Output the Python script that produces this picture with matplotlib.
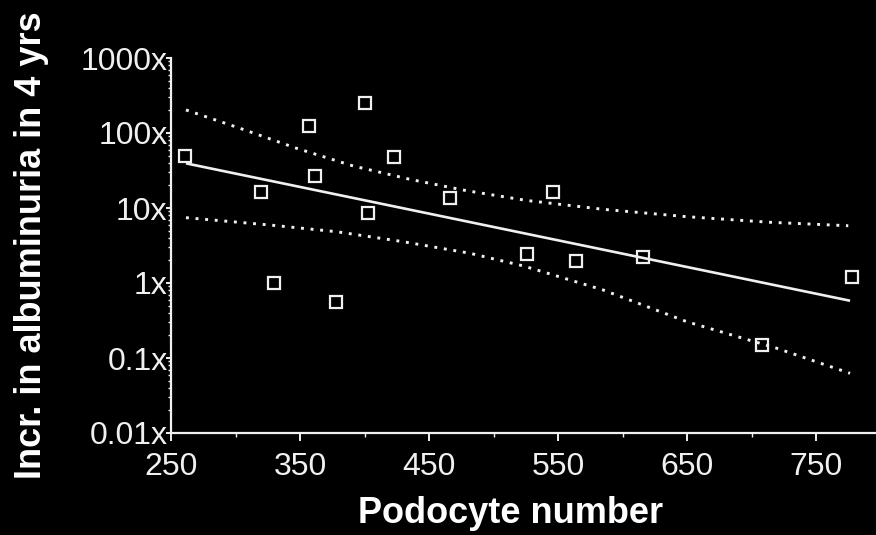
import matplotlib
matplotlib.use('Agg')
import matplotlib.pyplot as plt
from matplotlib.ticker import LogLocator, FixedLocator, NullFormatter
import numpy as np

# values
podocytes   = [261, 320, 330, 357, 362, 378, 400, 403, 423, 466, 526, 546, 564, 616, 708, 778]
albuminuria = [50, 16.5, 1.0, 124, 26.7, 0.56, 253, 8.5, 48, 13.5, 2.44, 16.5, 1.98, 2.22, 0.148, 1.21]

fit_x = [261.6, 776.4]
fit_y = [39.4, 0.58]

upper_x = [261.6, 303.5, 347.4, 391.3, 435.3, 479.2, 525.7, 585.1, 649.8, 714.3, 775.0]
upper_y = [203, 115.5, 62.5, 36.3, 24.1, 17.0, 12.6, 9.6, 7.66, 6.45, 5.8]
lower_x = [261.6, 326.7, 378.4, 430.1, 481.8, 523.1, 585.1, 649.8, 719.5, 776.4]
lower_y = [7.43, 5.93, 4.83, 3.55, 2.49, 1.69, 0.806, 0.305, 0.135, 0.0625]

x_ticks  = [250, 350, 450, 550, 650, 750]
y_ticks  = [0.01, 0.1, 1, 10, 100, 1000]
y_labels = ['0.01x', '0.1x', '1x', '10x', '100x', '1000x']

fg = '#f0f0f0'
font = ['Liberation Sans', 'DejaVu Sans']

fig = plt.figure(figsize=(8.76, 5.35), dpi=100, facecolor='black')
ax = fig.add_axes([171/876, 102/535, 1 - 171/876, 375/535], facecolor='black')

ax.plot(fit_x, fit_y, color=fg, lw=1.9, solid_capstyle='butt')
# dotted confidence bands
ax.plot(upper_x, upper_y, color=fg, lw=2.1, linestyle=(0, (1, 2.3)))
ax.plot(lower_x, lower_y, color=fg, lw=2.1, linestyle=(0, (1, 2.3)))
ax.plot(podocytes, albuminuria, linestyle='none', marker='s', markersize=8.5,
        markerfacecolor='none', markeredgecolor=fg, markeredgewidth=1.6)

ax.set_yscale('log')
ax.set_xlim(250, 796.5)
ax.set_ylim(0.01, 1000)

ax.yaxis.set_major_locator(FixedLocator(y_ticks))
ax.set_yticklabels(y_labels)
ax.yaxis.set_minor_locator(LogLocator(base=10, subs=np.arange(2, 10)))
ax.yaxis.set_minor_formatter(NullFormatter())
ax.xaxis.set_major_locator(FixedLocator(x_ticks))
ax.xaxis.set_minor_locator(FixedLocator([300, 400, 500, 600, 700]))

for s in ['top', 'right']:
    ax.spines[s].set_visible(False)
for s in ['left', 'bottom']:
    ax.spines[s].set_color(fg)
    ax.spines[s].set_linewidth(1.6)

ax.tick_params(axis='y', which='major', direction='out', length=3.5, width=1.4, colors=fg, pad=-1)
ax.tick_params(axis='y', which='minor', direction='out', length=2.5, width=1.0, colors=fg)
ax.tick_params(axis='x', which='major', direction='out', length=6, width=1.4, colors=fg, pad=8)
ax.tick_params(axis='x', which='minor', direction='out', length=3, width=1.0, colors=fg)
for lab in ax.get_xticklabels() + ax.get_yticklabels():
    lab.set_fontfamily(font)
    lab.set_fontsize(23)
    lab.set_color(fg)

fig.text(511/876, 1 - 523/535, 'Podocyte number', color='white', fontsize=26,
         fontweight='bold', family=font, ha='center', va='baseline')
fig.text(32/876, 1 - 245/535, 'Incr. in albuminuria in 4 yrs', color='white', fontsize=26,
         fontweight='bold', family=font, ha='center', va='center', rotation=90)

fig.savefig('out.png', dpi=100, facecolor='black')
